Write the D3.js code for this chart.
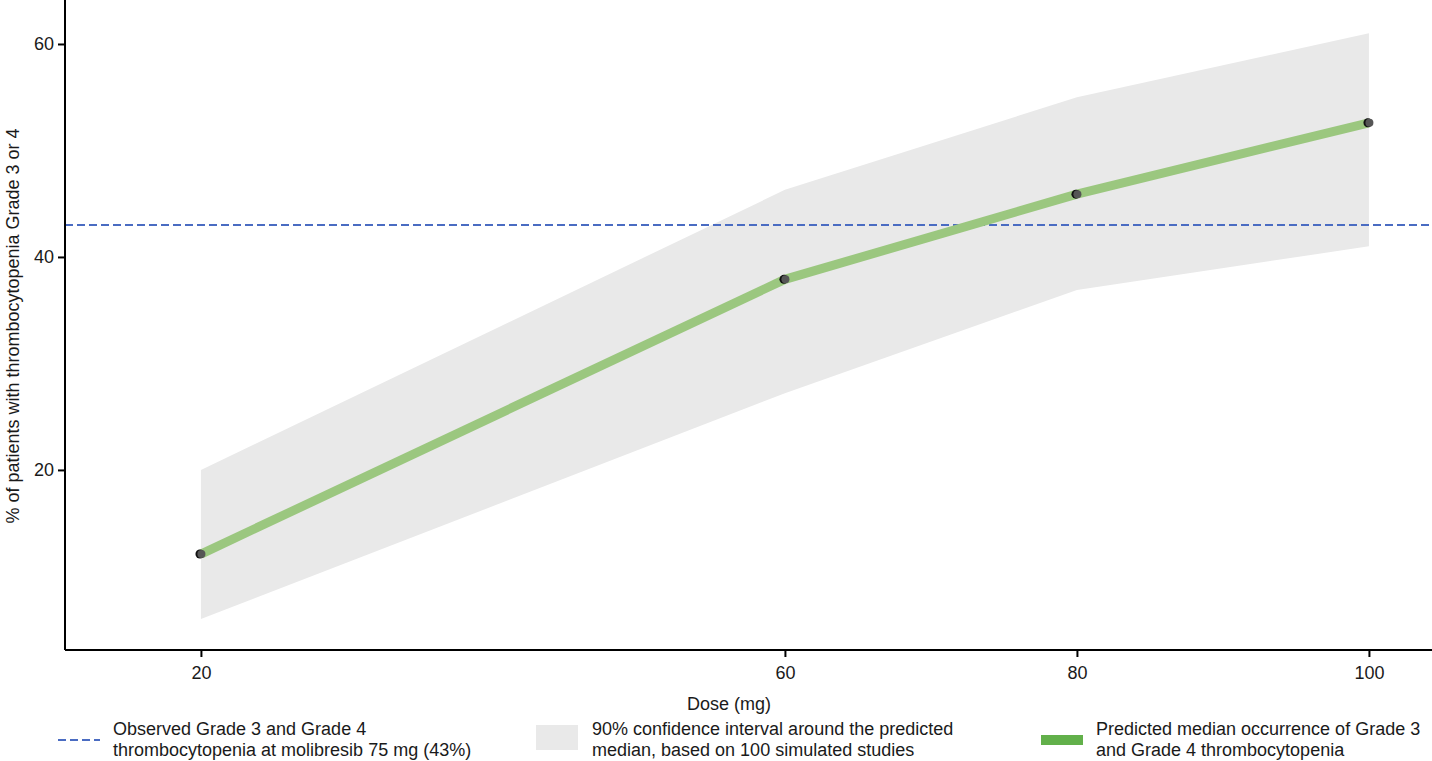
<!DOCTYPE html>
<html>
<head>
<meta charset="utf-8">
<script src="https://cdn.jsdelivr.net/npm/d3@7"></script>
<style>
  html, body { margin: 0; padding: 0; background: #fff; }
  svg { display: block; font-family: "Liberation Sans", Arial, sans-serif; }
</style>
</head>
<body>
<svg id="chart" width="1432" height="761"></svg>
<script>
// Dose levels (mg) and model predictions
const doses = [20, 60, 80, 100];
const medianPct = [12.1, 37.9, 45.9, 52.6];
const ciLower = [6.0, 27.2, 36.9, 41.0];
const ciUpper = [20.0, 46.3, 55.0, 61.0];
const observedPct = 43;
const xTicks = [20, 60, 80, 100];
const yTicks = [20, 40, 60];

const svg = d3.select("#chart");
const plotLeft = 65, plotRight = 1432, plotTop = 0, plotBottom = 650;
const fontSize = "18px";
const textColor = "#1a1a1a";

const x = d3.scaleLinear().domain([10.69, 104.32]).range([plotLeft, plotRight]);
const y = d3.scaleLinear().domain([3.09, 64.13]).range([plotBottom, plotTop]);

// 90% CI band
const band = doses.map((d, i) => ({ d, lo: ciLower[i], hi: ciUpper[i] }));
svg.append("path")
  .datum(band)
  .attr("fill", "#e9e9e9")
  .attr("d", d3.area().x(p => x(p.d)).y0(p => y(p.lo)).y1(p => y(p.hi)));

// Observed rate reference line
svg.append("line")
  .attr("x1", plotLeft).attr("x2", plotRight)
  .attr("y1", y(observedPct)).attr("y2", y(observedPct))
  .attr("stroke", "#4a6cc2").attr("stroke-width", 2.2)
  .attr("stroke-dasharray", "8,4");

// Predicted median line
const med = doses.map((d, i) => ({ d, v: medianPct[i] }));
svg.append("path")
  .datum(med)
  .attr("fill", "none")
  .attr("stroke", "#9bc77f")
  .attr("stroke-width", 9)
  .attr("d", d3.line().x(p => x(p.d)).y(p => y(p.v)));

// Point markers
const pts = svg.append("g").selectAll("g").data(med).join("g");
pts.append("circle").attr("cx", p => x(p.d) - 1).attr("cy", p => y(p.v)).attr("r", 4.5).attr("fill", "#111");
pts.append("circle").attr("cx", p => x(p.d) + 0.5).attr("cy", p => y(p.v)).attr("r", 4).attr("fill", "#555");

// Axes
const xAxis = svg.append("g").attr("transform", `translate(0,${plotBottom})`)
  .call(d3.axisBottom(x).tickValues(xTicks).tickSize(7).tickPadding(9).tickSizeOuter(0));
const yAxis = svg.append("g").attr("transform", `translate(${plotLeft},0)`)
  .call(d3.axisLeft(y).tickValues(yTicks).tickSize(7).tickPadding(4).tickSizeOuter(0));
[xAxis, yAxis].forEach(a => {
  a.select(".domain").attr("stroke", "#000").attr("stroke-width", 2);
  a.selectAll(".tick line").attr("stroke", "#000").attr("stroke-width", 2);
  a.selectAll(".tick text").attr("fill", textColor).style("font-size", fontSize);
});
xAxis.select(".domain").attr("d", `M${plotLeft},0H${plotRight}`);
yAxis.select(".domain").attr("d", `M0,${plotTop}V${plotBottom}`);

// Axis titles
svg.append("text")
  .attr("x", 729).attr("y", 710)
  .attr("text-anchor", "middle").attr("fill", textColor).style("font-size", fontSize)
  .text("Dose (mg)");
svg.append("text")
  .attr("transform", "translate(19,326) rotate(-90)")
  .attr("text-anchor", "middle").attr("fill", textColor).style("font-size", fontSize)
  .text("% of patients with thrombocytopenia Grade 3 or 4");

// Legend
const lg = svg.append("g").style("font-size", fontSize).attr("fill", textColor);
lg.append("line").attr("x1", 58).attr("x2", 100).attr("y1", 740).attr("y2", 740)
  .attr("stroke", "#4a6cc2").attr("stroke-width", 2.2).attr("stroke-dasharray", "8,4");
const t1 = lg.append("text").attr("x", 113).attr("y", 735);
t1.append("tspan").attr("x", 113).text("Observed Grade 3 and Grade 4");
t1.append("tspan").attr("x", 113).attr("dy", 21).text("thrombocytopenia at molibresib 75 mg (43%)");

lg.append("rect").attr("x", 536).attr("y", 725).attr("width", 42).attr("height", 25).attr("fill", "#e9e9e9");
const t2 = lg.append("text").attr("x", 592).attr("y", 735);
t2.append("tspan").attr("x", 592).text("90% confidence interval around the predicted");
t2.append("tspan").attr("x", 592).attr("dy", 21).text("median, based on 100 simulated studies");

lg.append("rect").attr("x", 1041).attr("y", 735).attr("width", 42).attr("height", 10).attr("fill", "#62b04a");
const t3 = lg.append("text").attr("x", 1096).attr("y", 735);
t3.append("tspan").attr("x", 1096).text("Predicted median occurrence of Grade 3");
t3.append("tspan").attr("x", 1096).attr("dy", 21).text("and Grade 4 thrombocytopenia");
</script>
</body>
</html>
